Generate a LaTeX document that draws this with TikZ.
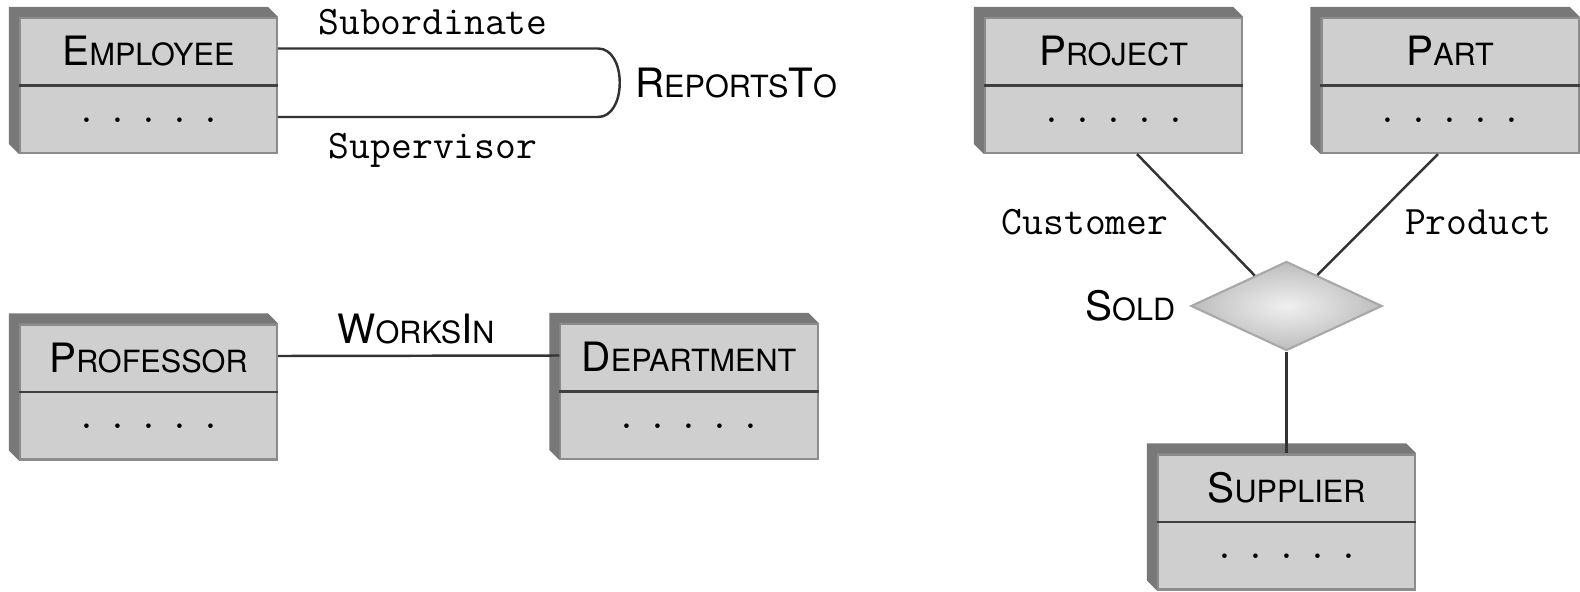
\documentclass[tikz,border=0pt]{standalone}
\usepackage{fontspec}
\setsansfont{TeX Gyre Heros}
\usepackage{xcolor}
\usepackage{tikz}
\usetikzlibrary{shapes.geometric,positioning,calc}

\definecolor{boxface}{gray}{0.81}
\definecolor{boxside}{gray}{0.47}
\definecolor{boxedge}{gray}{0.55}
\definecolor{divgray}{gray}{0.25}
\definecolor{linegray}{gray}{0.2}

% big and small capitals for the names
\newcommand{\ecap}[1]{{\fontsize{11.5}{13}\selectfont #1}}
\newcommand{\escap}[1]{{\fontsize{8.7}{10}\selectfont #1}}
\newcommand{\dotrow}{.\kern2.9pt.\kern2.9pt.\kern2.9pt.\kern2.9pt.}

\tikzset{
  entity/.style={rectangle, draw=boxedge, fill=boxface, line width=0.6pt,
    minimum width=2.57cm, minimum height=1.35cm, inner sep=0pt},
  shade3d/.style={fill=boxside},
  divider/.style={draw=divgray, line width=0.8pt},
  ername/.style={font=\sffamily, inner sep=0pt},
  attdots/.style={font=\ttfamily\fontsize{11.5}{13}\selectfont, inner sep=0pt},
  role/.style={font=\ttfamily\fontsize{11.5}{13}\selectfont, inner sep=0pt},
  conn/.style={draw=linegray, line width=0.7pt},
  relship/.style={diamond, draw=gray!68, line width=0.6pt, shading=radial,
    inner color=gray!12, outer color=gray!52,
    minimum width=1.91cm, minimum height=0.89cm, inner sep=0pt}
}

\begin{document}
\begin{tikzpicture}[x=0.01cm,y=0.01cm]
\useasboundingbox (0,0) rectangle (1580,-591);

% entities
\node[entity] (emp) at (148.5,-85.5) {};
\node[entity] (prof) at (148.5,-392) {};
\node[entity] (dept) at (689,-391.5) {};
\node[entity] (proj) at (1113.5,-85.5) {};
\node[entity] (part) at (1450,-85.5) {};
\node[entity] (supp) at (1286.5,-522) {};

\foreach \e in {emp,prof,dept,proj,part,supp} {
  \fill[shade3d] (\e.south west) -- ++(-10,10) |- ($(\e.north east)+(-10,10)$)
    -- (\e.north east) -- (\e.north west) -- cycle;
  \draw[divider] (\e.west) -- (\e.east);
  \node[attdots] at ($(\e.center)!0.5!(\e.south)$) {\dotrow};
}

\node[ername] at ($(emp.center)!0.5!(emp.north)$) {\ecap{E}\escap{MPLOYEE}};
\node[ername] at ($(prof.center)!0.5!(prof.north)$) {\ecap{P}\escap{ROFESSOR}};
\node[ername] at ($(dept.center)!0.5!(dept.north)$) {\ecap{D}\escap{EPARTMENT}};
\node[ername] at ($(proj.center)!0.5!(proj.north)$) {\ecap{P}\escap{ROJECT}};
\node[ername] at ($(part.center)!0.5!(part.north)$) {\ecap{P}\escap{ART}};
\node[ername] at ($(supp.center)!0.5!(supp.north)$) {\ecap{S}\escap{UPPLIER}};

% ReportsTo
\coordinate (rttop) at (598,-48.5);
\coordinate (rtbot) at (598,-117);
\draw[conn] ($(emp.east)+(0,37)$) -- (rttop)
  .. controls (627,-48.5) and (627,-117) .. (rtbot) -- ($(emp.east)+(0,-31.5)$);
\node[role] (subrole) at (433,-22) {Subordinate};
\node[role] (suprole) at (433,-150) {Supervisor};
\node[ername] (rtname) at (736,-83) {\ecap{R}\escap{EPORTS}\ecap{T}\escap{O}};

% WorksIn
\draw[conn] ($(prof.east)+(0,36)$) -- ($(dept.west)+(0,36)$);
\node[ername] (winame) at (416,-329) {\ecap{W}\escap{ORKS}\ecap{I}\escap{N}};

% Sold
\node[relship] (sold) at (1286.5,-306) {};
\node[ername, left=4pt of sold] (soldname) {\ecap{S}\escap{OLD}};
\draw[conn] ($(proj.south)+(23.5,0)$) -- ($(sold.west)!0.67!(sold.north)$);
\draw[conn] ($(part.south)+(-12,0)$) -- ($(sold.north)!0.32!(sold.east)$);
\draw[conn] (sold.south) -- (supp.north);
\node[role] (custrole) at (1085,-222) {Customer};
\node[role] (prodrole) at (1478,-222) {Product};
\end{tikzpicture}
\end{document}
